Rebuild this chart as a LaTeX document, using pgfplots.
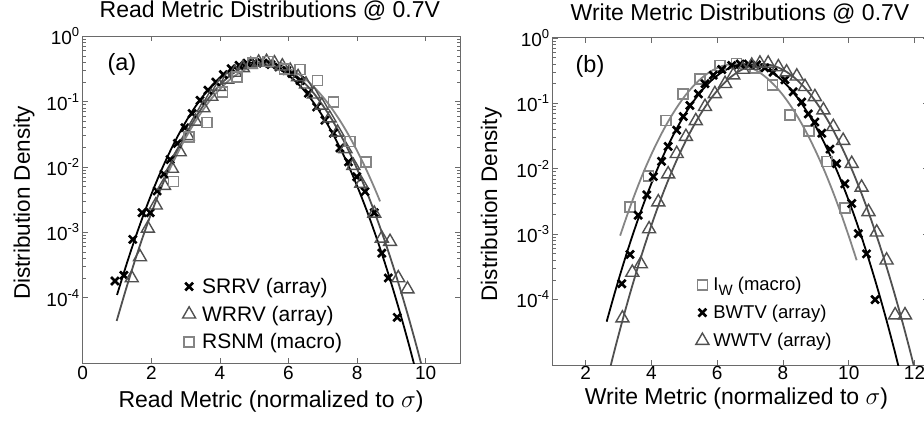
\documentclass[border=0pt]{standalone}
\usepackage{fontspec}
\setmainfont{Liberation Sans}
\usepackage{pgfplots}
\pgfplotsset{compat=1.18}
\definecolor{dg}{HTML}{505050}
\definecolor{lg}{HTML}{858585}
\definecolor{fr}{HTML}{6a6a6a}
\newcommand\tp[1]{10\raisebox{8pt}{\fontsize{13}{14}\selectfont #1}}
\pgfplotsset{
  mx/.style={only marks, mark=x, mark size=5.5pt, line width=2.6pt, black},
  mt/.style={only marks, mark=triangle, mark size=7.5pt, line width=1.4pt, dg},
  ms/.style={only marks, mark=square, mark size=5pt, line width=1.6pt, lg},
}
\begin{document}
\begin{tikzpicture}
\useasboundingbox (0,0) rectangle (924pt,422pt);
% ---------------- left panel ----------------
\begin{axis}[
  scale only axis, ymode=log, ymin=1e-5, ymax=1,
  ytick={1e-4,1e-3,1e-2,1e-1,1},
  yticklabels={\tp{-4},\tp{-3},\tp{-2},\tp{-1},\tp{0}},
  tick align=inside,
  ticklabel style={font=\fontsize{19}{22}\selectfont},
  /pgf/number format/assume math mode=true,
  axis line style={fr, line width=1pt},
  tick style={fr, line width=0.8pt},
  major tick length=5pt, minor tick length=3pt,
  legend cell align=left,
  legend image code/.code={\draw[#1] plot coordinates {(7pt,0pt)}; \path[draw=none,fill=none] (0pt,0pt) -- (18pt,0pt);},
  at={(82.7pt,59pt)}, anchor=south west, width=377.3pt, height=326.6pt,
  xmin=0, xmax=11, xtick={0,2,4,6,8,10},
  title={Read Metric Distributions @ 0.7V},
  title style={font=\fontsize{23}{26}\selectfont, anchor=base, at={(axis description cs:0.496,1.041)}},
  xlabel={Read Metric (normalized to $\sigma$)},
  xlabel style={font=\fontsize{23}{26}\selectfont, anchor=base, at={(axis description cs:0.499,-0.135)}},
  ylabel={Distribution Density},
  ylabel style={font=\fontsize{22.5}{26}\selectfont, anchor=base, at={(axis description cs:-0.1397,0.49)}},
  legend style={draw=none, fill=none, font=\fontsize{21}{24}\selectfont,
    at={(0.255,0.2725)}, anchor=north west, row sep=7pt},
]
\addplot[mx] coordinates {
(0.94,1.8e-4) (1.20,2.2e-4) (1.46,7.8e-4) (1.73,2.0e-3) (1.97,2.0e-3)
(2.17,4.3e-3) (2.37,7.8e-3) (2.55,1.3e-2) (2.76,2.3e-2) (2.98,4.0e-2)
(3.19,6.6e-2) (3.42,0.105) (3.65,0.15) (3.88,0.20) (4.10,0.26)
(4.33,0.32) (4.56,0.36) (4.79,0.39) (5.02,0.40) (5.26,0.39)
(5.49,0.37) (5.72,0.34) (5.95,0.30) (6.10,0.27) (6.34,0.21)
(6.58,0.135) (6.82,0.083) (7.06,0.052) (7.31,0.033) (7.50,0.0195)
(7.75,0.012) (7.99,0.0071) (8.23,0.0042) (8.50,0.0020) (8.72,4.8e-4)
(8.91,2.0e-4) (9.17,5.0e-5)};
\addlegendentry{SRRV (array)}
\addplot[mt] coordinates {
(1.43,2.0e-4) (1.67,4.2e-4) (1.90,1.15e-3) (2.13,2.6e-3) (2.37,5.2e-3)
(2.60,9.5e-3) (2.83,1.7e-2) (3.06,3.0e-2) (3.29,5.0e-2) (3.52,8.0e-2)
(3.75,0.12) (3.98,0.17) (4.21,0.22) (4.44,0.28) (4.67,0.33)
(4.90,0.37) (5.13,0.40) (5.36,0.41) (5.59,0.39) (5.82,0.35)
(6.05,0.30) (6.28,0.24) (6.51,0.185) (6.74,0.13) (6.97,0.088)
(7.20,0.056) (7.43,0.034) (7.66,0.019) (7.89,0.0105) (8.12,0.0056)
(8.50,1.95e-3) (8.72,8.1e-4) (8.96,7.2e-4) (9.20,2.0e-4) (9.47,1.35e-4)};
\addlegendentry{WRRV (array)}
\addplot[ms] coordinates {
(2.65,6.0e-3) (3.10,2.9e-2) (3.63,4.8e-2) (4.07,0.14) (4.49,0.24)
(4.95,0.39) (5.41,0.41) (5.88,0.32) (6.33,0.31) (6.85,0.21)
(7.31,0.10) (7.79,0.0245) (8.26,0.012)};
\addlegendentry{RSNM (macro)}
\addplot[black, line width=1.8pt, smooth, forget plot] coordinates {
(1.00,1.10e-4) (1.30,3.53e-4) (1.55,8.73e-4) (1.80,2.03e-3) (2.05,4.43e-3)
(2.30,9.1e-3) (2.55,0.0175) (2.80,0.0317) (3.05,0.054) (3.30,0.0863)
(3.55,0.130) (3.80,0.183) (4.05,0.242) (4.30,0.301) (4.55,0.352)
(4.80,0.387) (5.05,0.399) (5.30,0.387) (5.55,0.352) (5.80,0.301)
(6.05,0.242) (6.30,0.183) (6.55,0.130) (6.80,0.0863) (7.05,0.054)
(7.30,0.0317) (7.55,0.0175) (7.80,0.0091) (8.05,0.00443) (8.30,0.00203)
(8.55,8.73e-4) (8.80,3.53e-4) (9.05,1.34e-4) (9.30,4.78e-5) (9.55,1.60e-5)
(9.80,5.0e-6)};
\addplot[dg, line width=1.8pt, smooth, forget plot] coordinates {
(0.99,4.4e-5) (1.26,1.34e-4) (1.51,3.53e-4) (1.76,8.73e-4) (2.01,2.03e-3)
(2.26,4.43e-3) (2.51,9.1e-3) (2.76,0.0175) (3.01,0.0317) (3.26,0.054)
(3.51,0.0863) (3.76,0.130) (4.01,0.183) (4.26,0.242) (4.51,0.301)
(4.76,0.352) (5.01,0.387) (5.26,0.399) (5.51,0.387) (5.76,0.352)
(6.01,0.301) (6.26,0.242) (6.51,0.183) (6.76,0.130) (7.01,0.0863)
(7.26,0.054) (7.51,0.0317) (7.76,0.0175) (8.01,0.0091) (8.26,0.00443)
(8.51,0.00203) (8.76,8.73e-4) (9.01,3.53e-4) (9.26,1.34e-4) (9.51,4.78e-5)
(9.76,1.60e-5) (10.01,5.0e-6)};
\addplot[lg, line width=1.8pt, smooth, forget plot] coordinates {
(2.50,8.4e-3) (2.75,1.57e-2) (3.00,2.79e-2) (3.25,4.68e-2) (3.50,7.40e-2)
(3.75,0.111) (4.00,0.156) (4.25,0.209) (4.50,0.263) (4.75,0.314)
(5.00,0.353) (5.25,0.376) (5.50,0.379) (5.75,0.360) (6.00,0.323)
(6.25,0.274) (6.50,0.220) (6.75,0.166) (7.00,0.119) (7.25,0.0805)
(7.50,0.0515) (7.75,0.0311) (8.00,0.0177) (8.25,9.57e-3) (8.50,4.87e-3)
(8.67,2.98e-3)};
\node[font=\fontsize{23.5}{26}\selectfont] at (axis description cs:0.104,0.915) {(a)};
\end{axis}
% ---------------- right panel ----------------
\begin{axis}[
  scale only axis, ymode=log, ymin=1e-5, ymax=1,
  ytick={1e-4,1e-3,1e-2,1e-1,1},
  yticklabels={\tp{-4},\tp{-3},\tp{-2},\tp{-1},\tp{0}},
  tick align=inside,
  ticklabel style={font=\fontsize{19}{22}\selectfont},
  xticklabel style={yshift=2pt},
  /pgf/number format/assume math mode=true,
  axis line style={fr, line width=1pt},
  tick style={fr, line width=0.8pt},
  major tick length=5pt, minor tick length=3pt,
  legend cell align=left,
  legend image code/.code={\draw[#1] plot coordinates {(7pt,0pt)}; \path[draw=none,fill=none] (0pt,0pt) -- (16pt,0pt);},
  at={(552.7pt,57pt)}, anchor=south west, width=375pt, height=327pt,
  xmin=1, xmax=12.4, xtick={2,4,6,8,10,12},
  title={Write Metric Distributions @ 0.7V},
  title style={font=\fontsize{23}{26}\selectfont, anchor=base, at={(axis description cs:0.4995,1.035)}},
  xlabel={Write Metric (normalized to $\sigma$)},
  xlabel style={font=\fontsize{23}{26}\selectfont, anchor=base, at={(axis description cs:0.490,-0.121)}},
  ylabel={Distribution Density},
  ylabel style={font=\fontsize{22.5}{26}\selectfont, anchor=base, at={(axis description cs:-0.1485,0.491)}},
  legend style={draw=none, fill=none, font=\fontsize{18.5}{21}\selectfont,
    at={(0.372,0.281)}, anchor=north west, row sep=9pt},
]
\addplot[ms] coordinates {
(3.35,2.6e-3) (3.91,7.8e-3) (4.44,5.5e-2) (4.97,0.138) (5.48,0.234)
(6.09,0.38) (6.59,0.41) (7.15,0.35) (7.68,0.19) (8.21,0.066)
(8.79,0.038) (9.33,0.0129) (9.88,2.5e-3)};
\addlegendentry{I\raisebox{-5pt}{\fontsize{15}{16}\selectfont W} (macro)}
\addplot[mx] coordinates {
(3.10,1.75e-4) (3.35,4.9e-4) (3.60,1.95e-3) (3.86,4.0e-3) (4.06,7.6e-3)
(4.31,1.3e-2) (4.51,2.2e-2) (4.77,3.9e-2) (4.97,6.3e-2) (5.17,9.3e-2)
(5.43,0.14) (5.63,0.20) (5.88,0.27) (6.14,0.33) (6.44,0.38)
(6.70,0.40) (6.95,0.40) (7.20,0.39) (7.45,0.35) (7.70,0.30)
(8.06,0.23) (8.31,0.15) (8.57,0.105) (8.77,0.069) (8.97,0.052)
(9.18,0.035) (9.43,0.020) (9.63,0.012) (9.88,5.9e-3) (10.09,2.95e-3)
(10.29,1.02e-3) (10.54,5.0e-4) (10.80,1.0e-4)};
\addlegendentry{BWTV (array)}
\addplot[mt] coordinates {
(3.12,5.2e-5) (3.42,2.6e-4) (3.68,3.5e-4) (3.93,1.2e-3) (4.21,3.1e-3)
(4.51,8.3e-3) (4.77,1.7e-2) (5.05,3.1e-2) (5.35,5.4e-2) (5.63,8.9e-2)
(5.93,0.14) (6.24,0.20) (6.49,0.27) (6.78,0.33) (7.05,0.38)
(7.30,0.41) (7.55,0.41) (7.86,0.36) (8.11,0.30) (8.42,0.26)
(8.67,0.18) (8.97,0.126) (9.23,0.079) (9.53,0.044) (9.83,0.027)
(10.09,0.012) (10.39,5.2e-3) (10.60,2.2e-3) (10.85,1.07e-3) (11.15,4.0e-4)
(11.41,5.8e-5) (11.71,5.8e-5)};
\addlegendentry{WWTV (array)}
\addplot[lg, line width=1.8pt, smooth, forget plot] coordinates {
(3.05,9.5e-4) (3.27,2.0e-3) (3.52,4.4e-3) (3.77,9.1e-3) (4.02,0.0175)
(4.27,0.0317) (4.52,0.054) (4.77,0.0863) (5.02,0.130) (5.27,0.183)
(5.52,0.242) (5.77,0.301) (6.02,0.352) (6.27,0.387) (6.52,0.399)
(6.77,0.387) (7.02,0.352) (7.27,0.301) (7.52,0.242) (7.77,0.183)
(8.02,0.130) (8.27,0.0863) (8.52,0.054) (8.77,0.0317) (9.02,0.0175)
(9.27,0.0091) (9.52,0.00443) (9.77,0.00203) (10.02,8.73e-4) (10.24,4.0e-4)};
\addplot[black, line width=1.8pt, smooth, forget plot] coordinates {
(2.64,4.6e-5) (2.90,1.34e-4) (3.15,3.53e-4) (3.40,8.73e-4) (3.65,2.03e-3)
(3.90,4.43e-3) (4.15,9.1e-3) (4.40,0.0175) (4.65,0.0317) (4.90,0.054)
(5.15,0.0863) (5.40,0.130) (5.65,0.183) (5.90,0.242) (6.15,0.301)
(6.40,0.352) (6.65,0.387) (6.90,0.399) (7.15,0.387) (7.40,0.352)
(7.65,0.301) (7.90,0.242) (8.15,0.183) (8.40,0.130) (8.65,0.0863)
(8.90,0.054) (9.15,0.0317) (9.40,0.0175) (9.65,0.0091) (9.90,0.00443)
(10.15,0.00203) (10.40,8.73e-4) (10.65,3.53e-4) (10.90,1.34e-4) (11.15,4.78e-5)
(11.40,1.60e-5) (11.65,5.0e-6)};
\addplot[dg, line width=1.8pt, smooth, forget plot] coordinates {
(2.62,5.0e-6) (2.87,1.60e-5) (3.12,4.78e-5) (3.37,1.34e-4) (3.62,3.53e-4)
(3.87,8.73e-4) (4.12,2.03e-3) (4.37,4.43e-3) (4.62,9.1e-3) (4.87,0.0175)
(5.12,0.0317) (5.37,0.054) (5.62,0.0863) (5.87,0.130) (6.12,0.183)
(6.37,0.242) (6.62,0.301) (6.87,0.352) (7.12,0.387) (7.37,0.399)
(7.62,0.387) (7.87,0.352) (8.12,0.301) (8.37,0.242) (8.62,0.183)
(8.87,0.130) (9.12,0.0863) (9.37,0.054) (9.62,0.0317) (9.87,0.0175)
(10.12,0.0091) (10.37,0.00443) (10.62,0.00203) (10.87,8.73e-4) (11.12,3.53e-4)
(11.37,1.34e-4) (11.62,4.78e-5) (11.87,1.60e-5) (12.12,5.0e-6)};
\node[font=\fontsize{23.5}{26}\selectfont] at (axis description cs:0.0995,0.914) {(b)};
\end{axis}
\end{tikzpicture}
\end{document}
